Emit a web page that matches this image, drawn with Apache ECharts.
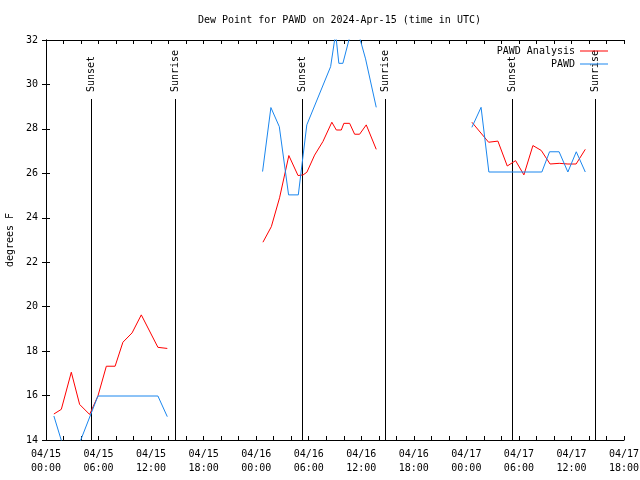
<!DOCTYPE html>
<html><head><meta charset="utf-8">
<script src="https://cdn.jsdelivr.net/npm/echarts/dist/echarts.min.js"></script>
<style>html,body{margin:0;padding:0;background:#fff}#c{width:640px;height:480px}</style>
</head><body><div id="c"></div><script>
// hours since 2024-04-15 00:00 UTC; null = gap between records
const analysisHours = [0.90,1.75,2.89,3.84,4.98,5.93,6.89,7.89,8.78,9.83,10.88,12.78,13.85, 20,
  24.77,25.73,26.67,27.73,28.78,29.36,29.79,30.67,31.62,32.64,33.15,33.72,34.01,34.67,35.24,35.81,36.57,37.71, 44,
  48.63,50.54,51.60,52.67,53.62,54.57,55.60,56.55,57.56,58.60,59.60,60.53,61.58];
const analysisValues = [15.17,15.38,17.05,15.6,15.15,15.98,17.32,17.32,18.4,18.82,19.63,18.17,18.12, null,
  22.9,23.6,24.9,26.8,25.9,25.93,26.05,26.82,27.43,28.3,27.95,27.95,28.25,28.25,27.76,27.76,28.18,27.08, null,
  28.3,27.4,27.45,26.33,26.57,25.93,27.25,27.03,26.42,26.45,26.42,26.42,27.08];
const obsHours = [0.90,1.89,2.90,3.90,5.93,12.78,13.85, 20,
  24.73,25.68,26.64,27.70,28.81,29.78,32.50,33.07,33.44,33.90,34.72,35.75,36.49,37.71, 44,
  48.63,49.68,50.57,56.62,57.50,58.59,59.59,60.55,61.58];
const obsValues = [15.08,13.8,13.3,13.93,15.98,15.98,15.05, null,
  26.08,28.96,28.1,25.03,25.03,28.18,30.8,32.3,30.95,30.95,32.2,32.2,31.15,28.97, null,
  28.07,28.97,26.06,26.06,26.97,26.97,26.06,26.97,26.06];
const sunHours = [5.195,14.71,29.18,38.66,53.25,62.67];
const sunLabels = ['Sunset','Sunrise','Sunset','Sunrise','Sunset','Sunrise'];
const xTickLabels = ['04/15\n00:00','04/15\n06:00','04/15\n12:00','04/15\n18:00','04/16\n00:00','04/16\n06:00',
  '04/16\n12:00','04/16\n18:00','04/17\n00:00','04/17\n06:00','04/17\n12:00','04/17\n18:00'];
const seriesNames = ['PAWD Analysis','PAWD'];
const titleText = 'Dew Point for PAWD on 2024-Apr-15 (time in UTC)';
const yName = 'degrees F';
const X_MIN = 0, X_MAX = 66, X_STEP = 6, Y_MIN = 14, Y_MAX = 32, Y_STEP = 2;

const FONT = '"DejaVu Sans Mono", monospace';
const pairs = (hs, vs) => hs.map((h, i) => [h, vs[i] === null ? '-' : vs[i]]);
const chart = echarts.init(document.getElementById('c'), null, {renderer: 'canvas'});
const tickCommon = {inside: true, length: 4, lineStyle: {color: '#000'}};
const minorCommon = {show: true, splitNumber: 3, length: 4, lineStyle: {color: '#000'}};
chart.setOption({
  animation: false,
  backgroundColor: '#fff',
  title: {text: titleText, left: 193, top: 10,
    textStyle: {fontFamily: FONT, fontSize: 10, fontWeight: 'normal', color: '#000'}},
  legend: {orient: 'vertical', right: 27, top: 40, align: 'right', icon: 'rect', itemWidth: 28, itemHeight: 1, itemGap: 1,
    data: seriesNames, textStyle: {fontFamily: FONT, fontSize: 10, color: '#000', lineHeight: 12}},
  grid: {left: 46, right: 16, top: 40, bottom: 40, containLabel: false, outerBoundsMode: 'none'},
  xAxis: [{
    type: 'value', min: X_MIN, max: X_MAX, interval: X_STEP, position: 'bottom',
    axisLine: {lineStyle: {color: '#000'}}, axisTick: tickCommon, minorTick: minorCommon,
    splitLine: {show: false},
    axisLabel: {fontFamily: FONT, fontSize: 10, color: '#000', lineHeight: 14, margin: 7, hideOverlap: false,
      formatter: v => xTickLabels[Math.round((v - X_MIN) / X_STEP)] || ''}
  }, {
    type: 'value', min: X_MIN, max: X_MAX, interval: X_STEP, position: 'top',
    axisLine: {lineStyle: {color: '#000'}}, axisTick: tickCommon, minorTick: minorCommon,
    splitLine: {show: false}, axisLabel: {show: false}
  }],
  yAxis: [{
    type: 'value', min: Y_MIN, max: Y_MAX, interval: Y_STEP, position: 'left',
    name: yName, nameLocation: 'middle', nameGap: 31, nameRotate: 90,
    nameTextStyle: {fontFamily: FONT, fontSize: 10, color: '#000'},
    axisLine: {show: true, lineStyle: {color: '#000'}}, axisTick: tickCommon,
    splitLine: {show: false},
    axisLabel: {fontFamily: FONT, fontSize: 10, color: '#000', margin: 8}
  }, {
    type: 'value', min: Y_MIN, max: Y_MAX, interval: Y_STEP, position: 'right',
    axisLine: {show: true, lineStyle: {color: '#000'}}, axisTick: tickCommon,
    splitLine: {show: false}, axisLabel: {show: false}
  }],
  series: [{
    name: seriesNames[0], type: 'line', data: pairs(analysisHours, analysisValues),
    symbol: 'none', color: '#ff0000', lineStyle: {width: 1, color: '#ff0000'}, connectNulls: false, z: 3
  }, {
    name: seriesNames[1], type: 'line', data: pairs(obsHours, obsValues),
    symbol: 'none', color: '#1a86ee', lineStyle: {width: 1, color: '#1a86ee'}, connectNulls: false, z: 3
  }, {
    type: 'custom', silent: true, clip: false, z: 2,
    data: sunHours.map((h, i) => [h, i]),
    renderItem: (params, api) => {
      const p0 = api.coord([api.value(0), Y_MIN]);
      const p1 = api.coord([api.value(0), Y_MAX]);
      const x = Math.round(p0[0]) + 0.5;
      return {type: 'group', children: [
        {type: 'line', shape: {x1: x, y1: p0[1], x2: x, y2: p1[1] + 59}, style: {stroke: '#000', lineWidth: 1}},
        {type: 'text', x: x, y: p1[1] + 52, rotation: Math.PI / 2,
          style: {text: sunLabels[api.value(1)], font: '10px ' + FONT, fill: '#000', align: 'left', verticalAlign: 'middle'}}
      ]};
    }
  }]
});
</script></body></html>
